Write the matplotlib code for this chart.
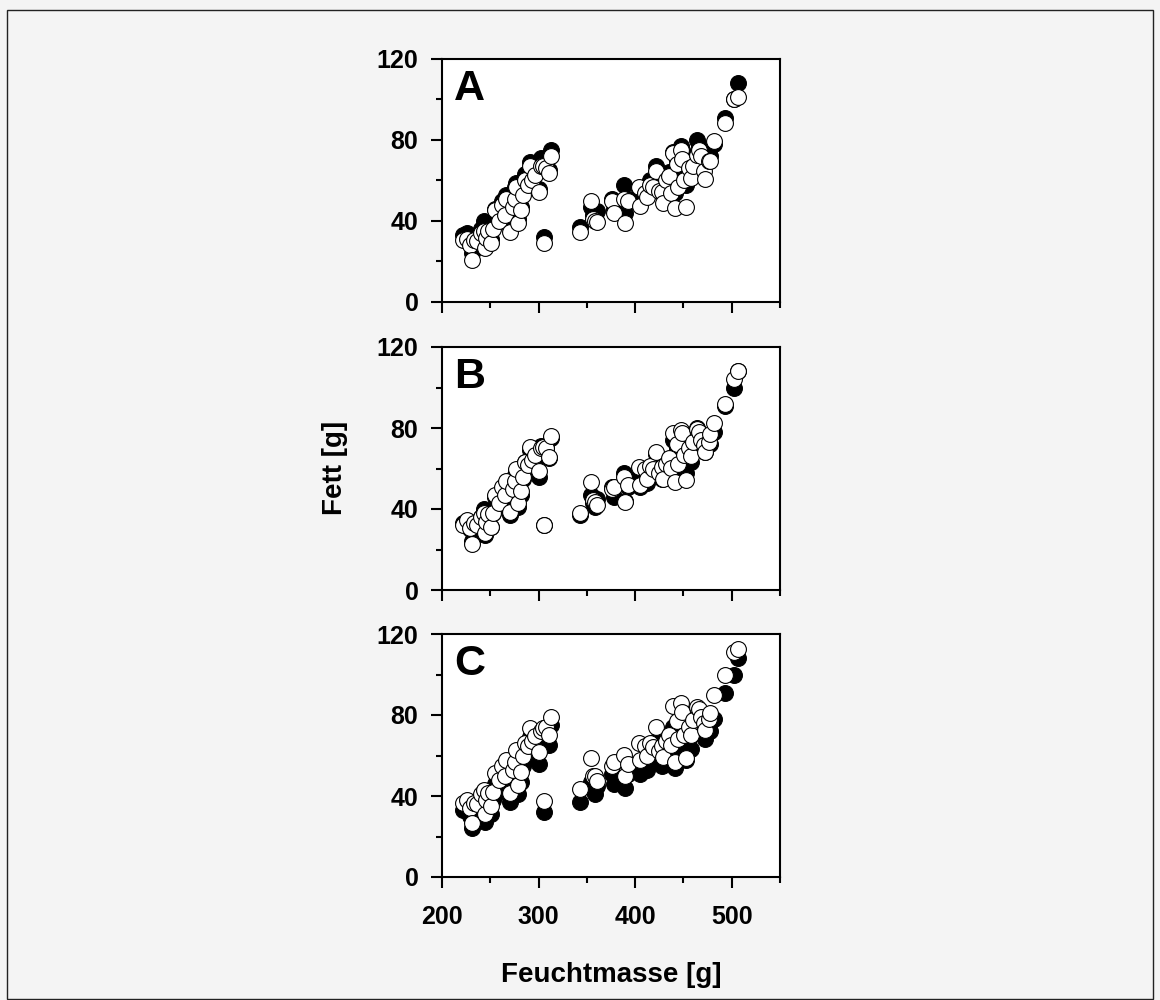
import matplotlib

matplotlib.use("Agg")
import matplotlib.pyplot as plt
from matplotlib.patches import Rectangle
from matplotlib.ticker import MultipleLocator

plt.rcParams["font.family"] = ["Liberation Sans", "DejaVu Sans"]
plt.rcParams["font.weight"] = "bold"

# Feuchtmasse [g], shared by all panels
wet_mass = [
    222, 226, 229, 231, 233, 236, 240, 243, 245, 246, 248, 251, 253, 255, 259,
    262, 265, 266, 270, 274, 276, 277, 279, 282, 284, 286, 289, 291, 293, 296,
    300, 302, 305, 306, 308, 311, 313,
    343, 354, 356, 358, 361, 376, 378, 388, 390, 393, 404, 405, 410, 412, 415,
    418, 422, 425, 428, 429, 432, 435, 437, 439, 441, 443, 444, 447, 449, 451,
    453, 456, 458, 460, 464, 466, 468, 471, 472, 476, 478, 482, 493, 502, 506,
]

# measured fat (filled circles)
fat_measured = [
    33, 34, 30, 24, 31, 33, 36, 40, 27, 33, 37, 31, 38, 46, 42,
    50, 45, 53, 37, 48, 57, 59, 41, 47, 55, 63, 59, 69, 63, 64,
    56, 71, 68, 32, 70, 65, 75,
    37, 47, 43, 41, 45, 51, 46, 58, 44, 51, 56, 51, 57, 53, 60,
    58, 67, 58, 55, 56, 62, 64, 60, 74, 54, 70, 64, 77, 75, 64,
    58, 68, 63, 72, 80, 77, 74, 70, 68, 73, 72, 78, 91, 100, 108,
]

# estimated fat (open circles), one series per panel
fat_est_a = [
    30.6, 31.0, 28.0, 20.5, 30.5, 30.0, 34.0, 35.0, 26.5, 31.5, 35.0, 29.0, 36.0, 45.5, 40.0,
    48.0, 43.0, 51.0, 34.7, 47.0, 50.7, 57.0, 38.8, 45.5, 53.0, 60.0, 57.8, 67.0, 60.0, 62.8,
    54.5, 67.0, 67.0, 29.0, 66.0, 63.6, 72.2,
    34.7, 50.0, 41.0, 40.0, 39.7, 50.0, 44.0, 50.7, 39.2, 50.0, 57.0, 47.6, 53.7, 52.0, 58.0,
    57.0, 64.5, 55.0, 54.5, 48.8, 60.0, 62.0, 54.0, 73.5, 46.3, 68.0, 57.0, 75.2, 70.6, 60.3,
    47.0, 66.0, 61.0, 67.0, 72.7, 75.0, 72.0, 64.5, 60.7, 69.4, 69.4, 79.3, 88.4, 100.3, 101.3,
]
fat_est_b = [
    32.0, 34.5, 30.5, 22.7, 33.0, 32.0, 36.0, 38.0, 28.0, 33.7, 37.5, 31.0, 38.0, 46.9, 43.0,
    51.0, 47.0, 54.0, 38.7, 50.0, 54.0, 60.0, 42.8, 49.0, 56.0, 63.0, 61.7, 70.4, 64.0, 66.6,
    58.7, 70.0, 70.7, 32.0, 70.0, 65.8, 76.0,
    38.0, 53.5, 44.5, 43.6, 42.0, 50.0, 51.0, 56.0, 43.6, 52.0, 60.8, 51.8, 60.0, 55.0, 61.0,
    60.0, 68.0, 58.0, 60.8, 55.0, 62.0, 65.0, 60.4, 77.3, 53.5, 72.0, 62.0, 79.0, 77.3, 66.6,
    54.3, 70.0, 66.0, 73.2, 79.4, 78.0, 74.0, 71.5, 68.3, 73.0, 76.8, 82.7, 92.0, 104.4, 108.0,
]
fat_est_c = [
    36.5, 38.0, 34.0, 26.6, 36.5, 36.0, 41.0, 43.0, 31.0, 38.0, 41.4, 35.0, 42.0, 51.3, 48.0,
    55.0, 49.7, 57.9, 41.4, 53.0, 57.0, 62.8, 45.6, 52.0, 60.0, 66.0, 64.5, 73.5, 67.0, 69.4,
    61.5, 72.0, 73.5, 37.3, 74.0, 70.2, 79.0,
    43.6, 59.0, 50.0, 49.7, 47.5, 55.0, 57.0, 60.4, 49.7, 56.0, 66.4, 57.9, 64.5, 60.0, 66.0,
    64.0, 74.3, 62.0, 64.8, 59.5, 67.0, 70.0, 65.3, 84.2, 57.0, 77.0, 68.0, 85.9, 81.7, 70.2,
    58.7, 74.0, 70.0, 77.6, 83.9, 83.0, 79.0, 76.0, 72.7, 78.0, 81.0, 90.0, 99.8, 111.3, 112.5,
]

panel_labels = ["A", "B", "C"]
x_ticks = [200, 300, 400, 500]
y_ticks = [0, 40, 80, 120]


def style_axis(ax, show_xlabels):
    ax.set_xlim(200, 550)
    ax.set_ylim(0, 120)
    ax.set_xticks(x_ticks)
    ax.set_yticks(y_ticks)
    ax.xaxis.set_minor_locator(MultipleLocator(50))
    ax.yaxis.set_minor_locator(MultipleLocator(20))
    ax.tick_params(which="major", direction="out", length=8, width=1.5,
                   labelsize=18, pad=9)
    ax.tick_params(which="minor", direction="out", length=4.5, width=1.5)
    ax.tick_params(axis="x", which="major", pad=12)
    ax.tick_params(top=False, right=False, which="both")
    for spine in ax.spines.values():
        spine.set_linewidth(1.5)
    if not show_xlabels:
        ax.set_xticklabels([])


fig = plt.figure(figsize=(11.6, 10), dpi=100)
fig.patch.set_facecolor("#f4f4f4")
fig.patches.append(
    Rectangle((7 / 1160, 0.001), 1146 / 1160, 0.989, transform=fig.transFigure,
              fill=False, edgecolor="#222222", linewidth=1.0)
)

left, width = 442 / 1160, 338 / 1160
tops = [59, 347, 634]
height = 243 / 1000
series = [fat_est_a, fat_est_b, fat_est_c]

axes = []
for i, (top, est) in enumerate(zip(tops, series)):
    ax = fig.add_axes([left, 1 - top / 1000 - height, width, height])
    ax.set_facecolor("white")
    ax.scatter(wet_mass, fat_measured, s=130, c="black", edgecolors="black",
               linewidths=0.8, zorder=2)
    ax.scatter(wet_mass, est, s=130, c="white", edgecolors="black",
               linewidths=0.8, zorder=3)
    ax.text(0.035, 0.96, panel_labels[i], transform=ax.transAxes,
            fontsize=31, fontweight="bold", va="top", ha="left", zorder=4)
    style_axis(ax, i == 2)
    axes.append(ax)

axes[2].set_xlabel("Feuchtmasse [g]", fontsize=20, fontweight="bold", labelpad=24)
fig.text(335 / 1160, 1 - 468 / 1000, "Fett [g]", rotation=90, fontsize=20,
         fontweight="bold", ha="center", va="center")

fig.savefig("out.png", dpi=100, facecolor=fig.get_facecolor())
